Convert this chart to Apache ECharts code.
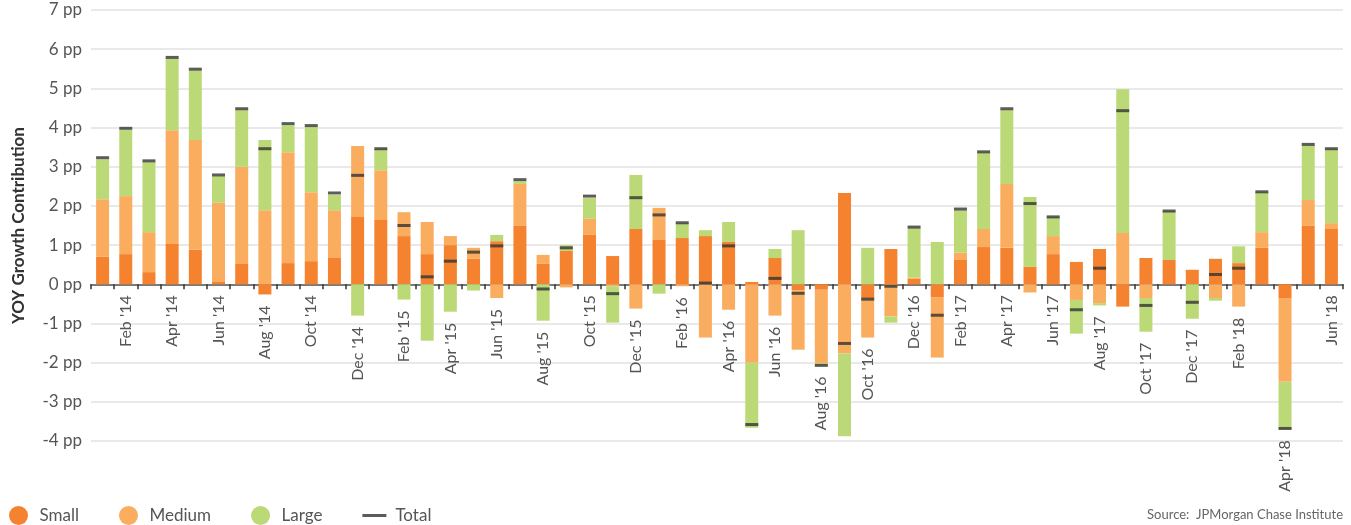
<!DOCTYPE html>
<html>
<head>
<meta charset="utf-8">
<title>YOY Growth Contribution</title>
<script src="https://cdn.jsdelivr.net/npm/echarts@6/dist/echarts.min.js"></script>
<style>
  html, body { margin: 0; padding: 0; background: #fff; }
  #chart { width: 1351px; height: 525px; }
</style>
</head>
<body>
<div id="chart"></div>
<script>
// months Jan '14 .. Jun '18
const months = [
  "Jan '14", "Feb '14", "Mar '14", "Apr '14", "May '14", "Jun '14", "Jul '14", "Aug '14", "Sep '14", "Oct '14", "Nov '14", "Dec '14",
  "Jan '15", "Feb '15", "Mar '15", "Apr '15", "May '15", "Jun '15", "Jul '15", "Aug '15", "Sep '15", "Oct '15", "Nov '15", "Dec '15",
  "Jan '16", "Feb '16", "Mar '16", "Apr '16", "May '16", "Jun '16", "Jul '16", "Aug '16", "Sep '16", "Oct '16", "Nov '16", "Dec '16",
  "Jan '17", "Feb '17", "Mar '17", "Apr '17", "May '17", "Jun '17", "Jul '17", "Aug '17", "Sep '17", "Oct '17", "Nov '17", "Dec '17",
  "Jan '18", "Feb '18", "Mar '18", "Apr '18", "May '18", "Jun '18"
];

const small = [
  0.70, 0.77, 0.31, 1.03, 0.88, 0.06, 0.52, -0.26, 0.54, 0.59, 0.67, 1.72,
  1.64, 1.23, 0.77, 1.00, 0.65, 1.10, 1.49, 0.52, 0.85, 1.26, 0.72, 1.41,
  1.13, 1.18, 1.23, 1.08, 0.06, 0.67, -0.15, -0.14, 2.33, -0.36, 0.90, 0.14,
  -0.34, 0.62, 0.95, 0.93, 0.45, 0.77, 0.57, 0.90, -0.57, 0.67, 0.62, 0.37,
  0.65, 0.54, 0.93, -0.35, 1.49, 1.41
];

const medium = [
  1.47, 1.48, 1.02, 2.90, 2.80, 2.02, 2.48, 1.89, 2.83, 1.76, 1.22, 1.81,
  1.27, 0.61, 0.82, 0.23, 0.28, -0.35, 1.07, 0.23, -0.08, 0.41, -0.05, -0.62,
  0.82, -0.05, -1.36, -0.65, -2.00, -0.80, -1.52, -1.88, -1.77, -1.00, -0.82, 0.03,
  -1.53, 0.19, 0.46, 1.63, -0.21, 0.46, -0.40, -0.48, 1.31, -0.35, 0.00, 0.00,
  -0.35, -0.57, 0.40, -2.14, 0.66, 0.15
];

const large = [
  1.02, 1.69, 1.79, 1.83, 1.78, 0.68, 1.45, 1.79, 0.69, 1.67, 0.39, -0.80,
  0.54, -0.39, -1.44, -0.70, -0.16, 0.16, 0.07, -0.93, 0.15, 0.53, -0.93, 1.38,
  -0.24, 0.38, 0.15, 0.51, -1.66, 0.23, 1.38, -0.05, -2.11, 0.93, -0.16, 1.27,
  1.08, 1.08, 1.95, 1.89, 1.78, 0.49, -0.86, -0.06, 3.67, -0.86, 1.25, -0.88,
  -0.07, 0.43, 1.02, -1.21, 1.40, 1.89
];

const total = [
  3.23, 3.98, 3.15, 5.79, 5.49, 2.79, 4.48, 3.46, 4.10, 4.05, 2.33, 2.78,
  3.46, 1.50, 0.19, 0.59, 0.82, 0.98, 2.67, -0.12, 0.93, 2.25, -0.24, 2.21,
  1.77, 1.57, 0.03, 0.98, -3.58, 0.15, -0.23, -2.07, -1.51, -0.38, -0.05, 1.46,
  -0.79, 1.92, 3.38, 4.48, 2.06, 1.72, -0.65, 0.41, 4.43, -0.54, 1.87, -0.46,
  0.25, 0.41, 2.36, -3.68, 3.57, 3.46
];

const yTicks = { min: -4, max: 7, step: 1 };

const font = 'Lato, "Noto Sans", sans-serif';
const colors = { small: '#f4822f', medium: '#faad5e', large: '#bcd977', total: '#333333' };

// lowest point of each stacked bar, month labels hang under it
const lowest = months.map((m, i) =>
  Math.min(0, small[i]) + Math.min(0, medium[i]) + Math.min(0, large[i])
);

const chart = echarts.init(document.getElementById('chart'), null, { renderer: 'canvas' });

const barBase = {
  type: 'bar',
  stack: 'mix',
  barWidth: 13
};

chart.setOption({
  animation: false,
  grid: { left: 91, right: 8, top: 10, bottom: 84, containLabel: false },
  legend: {
    left: 4,
    top: 501,
    itemWidth: 24,
    itemHeight: 19,
    itemGap: 40,
    textStyle: { fontFamily: font, fontSize: 17, color: '#555', padding: [0, 0, 0, 4] },
    data: [
      { name: 'Small', icon: 'circle' },
      { name: 'Medium', icon: 'circle' },
      { name: 'Large', icon: 'circle' },
      { name: 'Total', icon: 'path://M0,0 L24,0 L24,3 L0,3 Z' }
    ]
  },
  graphic: [{
    type: 'text',
    right: 8,
    top: 508,
    style: { text: 'Source:  JPMorgan Chase Institute', font: '13px ' + font, fill: '#666' }
  }],
  xAxis: {
    type: 'category',
    data: months,
    boundaryGap: true,
    axisLine: { onZero: true, lineStyle: { color: '#555', width: 1.5 } },
    axisTick: { show: true, interval: 0, length: 5, lineStyle: { color: '#333', width: 1.5 } },
    axisLabel: { show: false }
  },
  yAxis: {
    type: 'value',
    min: yTicks.min,
    max: yTicks.max,
    interval: yTicks.step,
    name: 'YOY Growth Contribution',
    nameLocation: 'middle',
    nameRotate: 90,
    nameGap: 64,
    nameTextStyle: { fontFamily: font, fontSize: 17, fontWeight: 'bold', color: '#333' },
    axisLine: { show: false },
    axisTick: { show: false },
    axisLabel: { formatter: '{value} pp', fontFamily: font, fontSize: 17, color: '#555', margin: 9 },
    splitLine: { lineStyle: { color: '#e2e2e2', width: 1.5 } }
  },
  series: [
    Object.assign({ name: 'Small', data: small, itemStyle: { color: colors.small } }, barBase),
    Object.assign({ name: 'Medium', data: medium, itemStyle: { color: colors.medium } }, barBase),
    Object.assign({ name: 'Large', data: large, itemStyle: { color: colors.large } }, barBase),
    {
      name: 'Total',
      type: 'scatter',
      data: total,
      symbol: 'rect',
      symbolSize: [13, 3],
      itemStyle: { color: colors.total },
      z: 5
    },
    {
      name: 'monthLabels',
      type: 'custom',
      silent: true,
      data: months.map((m, i) => [i, lowest[i]]),
      renderItem: (params, api) => {
        const idx = api.value(0);
        if (idx % 2 === 0) return null;
        const pt = api.coord([idx, api.value(1)]);
        return {
          type: 'text',
          x: pt[0],
          y: pt[1] + 11,
          rotation: Math.PI / 2,
          style: {
            text: months[idx],
            align: 'right',
            verticalAlign: 'middle',
            font: '16px ' + font,
            fill: '#555'
          }
        };
      }
    }
  ]
});

window.onresize = () => chart.resize();
</script>
</body>
</html>
